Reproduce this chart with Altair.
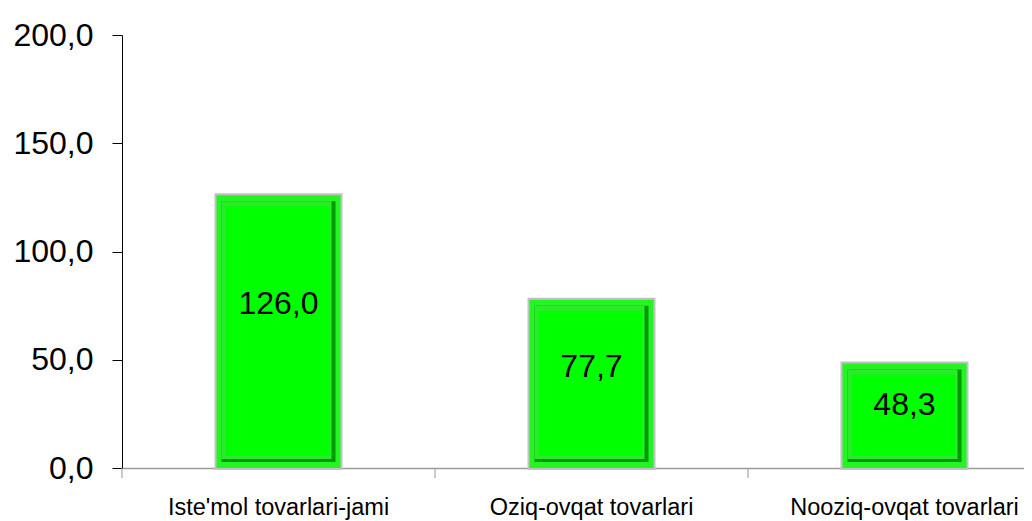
import altair as alt
import pandas as pd

categories = ["Iste'mol tovarlari-jami", "Oziq-ovqat tovarlari", "Nooziq-ovqat tovarlari"]
values = [126.0, 77.7, 48.3]
y_ticks = [0, 50, 100, 150, 200]

df = pd.DataFrame({"cat": categories, "value": values})

FONT = "Liberation Sans"
fmt = "replace(format(datum.value,'.1f'),'.',',')"
STEP = 313

xscale = alt.Scale(paddingInner=0.6, paddingOuter=0.3, range=[0, 3 * STEP])
x_main = alt.X(
    "cat:N", sort=None, title=None, scale=xscale,
    axis=alt.Axis(labelAngle=0, ticks=False, tickSize=0, labelPadding=27,
                  labelFontSize=23.5, labelFont=FONT, labelColor="#000000",
                  domainColor="#9a9a9a", domainWidth=1.5, labelLimit=400),
)
y = alt.Y(
    "value:Q", title=None, scale=alt.Scale(domain=[0, 200]),
    axis=alt.Axis(values=y_ticks, labelExpr=fmt, grid=False,
                  domainColor="#000000", tickColor="#000000", tickSize=10,
                  labelPadding=19, labelFontSize=32, labelFont=FONT,
                  labelColor="#000000"),
)
y0 = alt.datum(0)

base = alt.Chart(df)

shadow = base.mark_bar(size=128, color="#c2c2c2", yOffset=-2, y2Offset=2).encode(x=x_main, y=y, y2=y0)
outer = base.mark_bar(size=124, color="#22f522").encode(x=x_main, y=y, y2=y0)
dark = base.mark_bar(size=114, color="#009a00", yOffset=6, y2Offset=-6).encode(x=x_main, y=y, y2=y0)
light = base.mark_bar(size=110, xOffset=-2, color="#2ee82e", yOffset=6, y2Offset=-9).encode(x=x_main, y=y, y2=y0)
face = base.mark_bar(size=104, xOffset=-1, color="#00ff00", yOffset=11, y2Offset=-12).encode(x=x_main, y=y, y2=y0)

text = base.transform_calculate(
    ly="datum.value*0.6", lab=fmt
).mark_text(fontSize=32, font=FONT, color="#000000").encode(
    x=x_main, y=alt.Y("ly:Q"), text="lab:N"
)

cat_ticks = base.mark_tick(orient="vertical", size=10, thickness=1.5, color="#9a9a9a",
                           xOffset=-STEP / 2, yOffset=5).encode(
    x=x_main, y=alt.datum(0)
)

chart = alt.layer(shadow, outer, dark, light, face, text, cat_ticks).properties(
    width=3 * STEP - 37, height=433,
    autosize=alt.AutoSizeParams(type="none"),
    padding={"left": 114, "top": 27, "right": 0, "bottom": 53},
).configure_view(stroke=None)

chart.save("out.html", embed_options={"renderer": "svg", "actions": False})
